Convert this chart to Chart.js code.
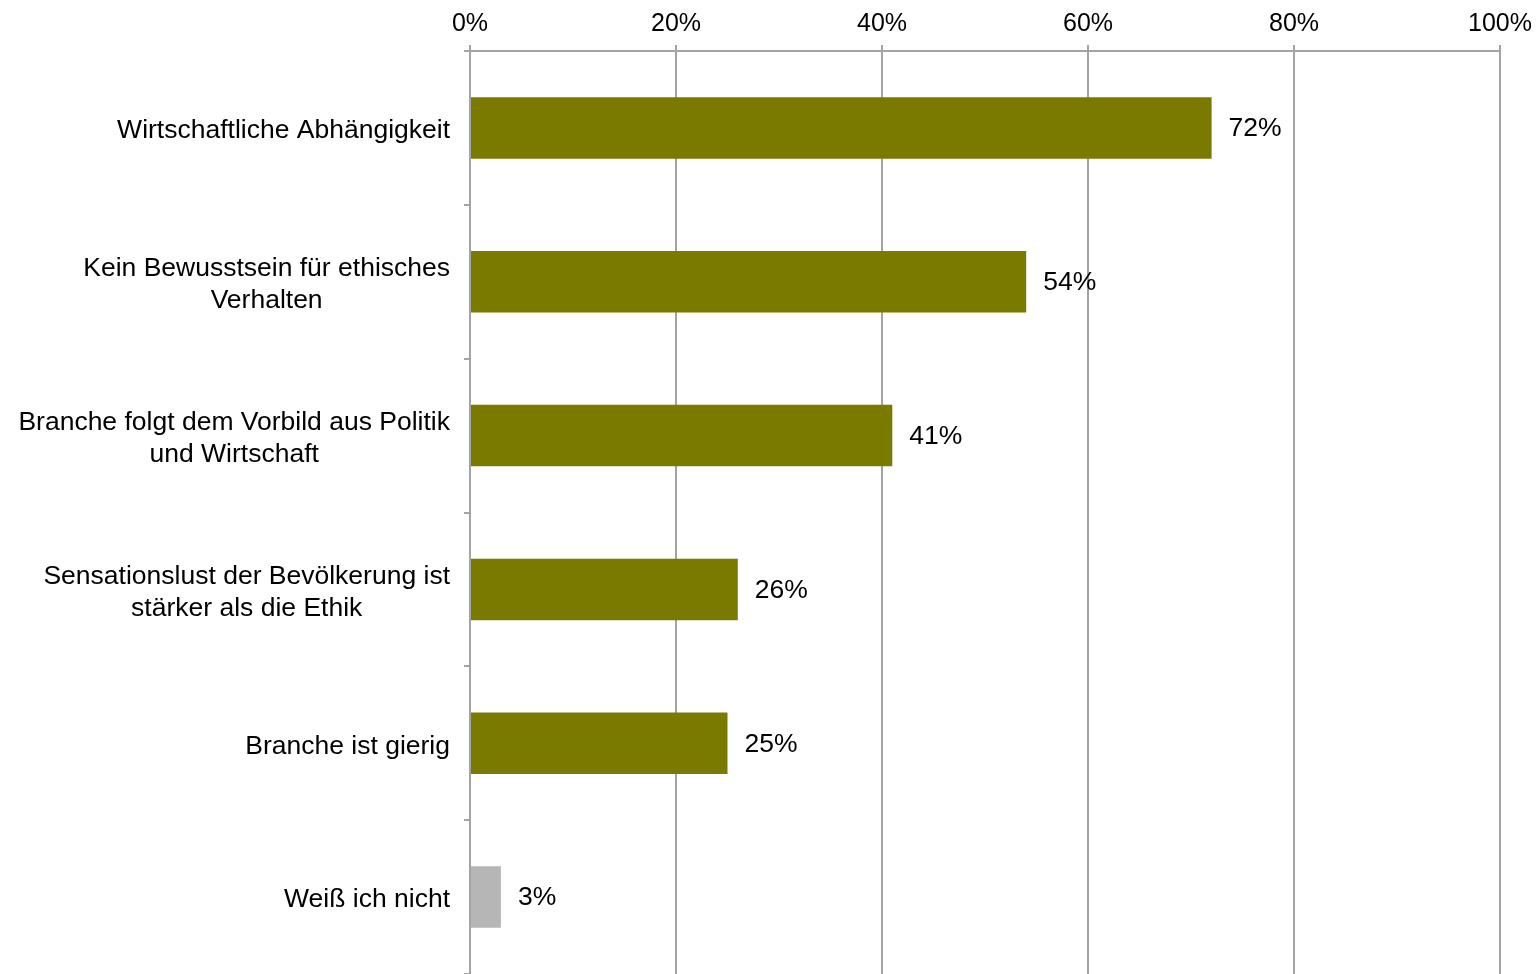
<!DOCTYPE html>
<html lang="de">
<head>
<meta charset="utf-8">
<title>Gründe</title>
<script src="https://cdn.jsdelivr.net/npm/chart.js@4.4.1/dist/chart.umd.min.js"></script>
<style>
  html, body { margin: 0; padding: 0; background: #fff; }
  #wrap { width: 1539px; height: 974px; position: relative; }
</style>
</head>
<body>
<div id="wrap"><canvas id="reasonsChart"></canvas></div>
<script>
// Categories (line breaks as they should be shown)
const categories = [
    ['Wirtschaftliche Abhängigkeit'],
    ['Kein Bewusstsein für ethisches', 'Verhalten'],
    ['Branche folgt dem Vorbild aus Politik', 'und Wirtschaft'],
    ['Sensationslust der Bevölkerung ist', 'stärker als die Ethik'],
    ['Branche ist gierig'],
    ['Weiß ich nicht']
];
const shares = [72, 54, 41, 26, 25, 3];
const barColors = ['#7a7a00', '#7a7a00', '#7a7a00', '#7a7a00', '#7a7a00', '#b6b6b6'];
const xTicks = [0, 20, 40, 60, 80, 100];

const FONT = '"Liberation Sans", Arial, Helvetica, sans-serif';
const FONT_SIZE = 26.5;
const GRID = '#a3a3a3';

// Category labels: block right-aligned to the axis, lines centred inside the block
const categoryLabels = {
    id: 'categoryLabels',
    afterDraw(chart) {
        const ctx = chart.ctx;
        const y = chart.scales.y;
        const rightEdge = y.right - 20;
        const lineH = 32;
        ctx.save();
        ctx.font = FONT_SIZE + 'px ' + FONT;
        ctx.fillStyle = '#000';
        ctx.textAlign = 'center';
        ctx.textBaseline = 'middle';
        categories.forEach((lines, i) => {
            const widths = lines.map(l => ctx.measureText(l).width);
            const blockW = Math.max(...widths);
            const cx = rightEdge - blockW / 2;
            const cy = y.getPixelForValue(i) + 3;
            const top = cy - (lines.length - 1) * lineH / 2;
            lines.forEach((l, k) => ctx.fillText(l, cx, top + k * lineH));
        });
        ctx.restore();
    }
};

// Value labels to the right of each bar
const valueLabels = {
    id: 'valueLabels',
    afterDatasetsDraw(chart) {
        const ctx = chart.ctx;
        const x = chart.scales.x;
        const y = chart.scales.y;
        ctx.save();
        ctx.font = FONT_SIZE + 'px ' + FONT;
        ctx.fillStyle = '#000';
        ctx.textAlign = 'left';
        ctx.textBaseline = 'middle';
        shares.forEach((v, i) => {
            ctx.fillText(v + '%', x.getPixelForValue(v) + 17, y.getPixelForValue(i) + 1);
        });
        ctx.restore();
    }
};

new Chart(document.getElementById('reasonsChart'), {
    type: 'bar',
    data: {
        labels: categories.map(c => c.join(' ')),
        datasets: [{
            data: shares,
            backgroundColor: barColors,
            borderWidth: 0,
            barPercentage: 0.4,
            categoryPercentage: 1
        }]
    },
    options: {
        indexAxis: 'y',
        responsive: true,
        maintainAspectRatio: false,
        animation: false,
        layout: { padding: { top: 0, right: 39, bottom: 0, left: 0 } },
        plugins: {
            legend: { display: false },
            tooltip: { enabled: false }
        },
        scales: {
            x: {
                position: 'top',
                min: 0,
                max: 100,
                afterBuildTicks: s => { s.ticks = xTicks.map(v => ({ value: v })); },
                afterFit: s => { s.height = 51; },
                ticks: {
                    color: '#000',
                    font: { family: FONT, size: 25 },
                    padding: 6,
                    maxRotation: 0,
                    callback: v => v + '%'
                },
                grid: { color: GRID, lineWidth: 2, tickLength: 6 },
                border: { color: GRID, width: 2 }
            },
            y: {
                afterFit: s => { s.width = 470; },
                ticks: { display: false },
                grid: {
                    offset: true,
                    drawOnChartArea: false,
                    color: GRID,
                    lineWidth: 2,
                    tickLength: 6
                },
                border: { color: GRID, width: 2 }
            }
        }
    },
    plugins: [categoryLabels, valueLabels]
});
</script>
</body>
</html>
